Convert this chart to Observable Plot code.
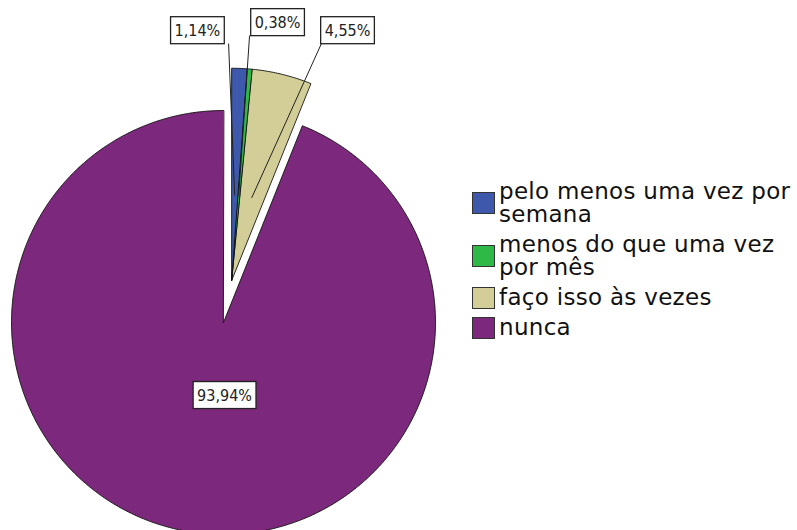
<!DOCTYPE html>
<html>
<head>
<meta charset="utf-8">
<script src="https://cdn.jsdelivr.net/npm/d3@7"></script>
<script src="https://cdn.jsdelivr.net/npm/@observablehq/plot@0.6"></script>
<style>
  html, body { margin: 0; padding: 0; background: #fff; }
  #wrap { position: relative; width: 797px; height: 530px; overflow: hidden; }
  #legend { position: absolute; left: 472px; top: 180px; font-family: "DejaVu Sans", sans-serif; font-size: 23px; letter-spacing: 0.3px; color: #111; line-height: 23px; }
  .item { display: flex; align-items: center; margin-bottom: 7px; }
  .sw { width: 23px; height: 22px; border: 1.5px solid #333; box-sizing: border-box; margin-right: 4px; flex: none; }
  .lab { width: 320px; }
</style>
</head>
<body>
<div id="wrap"><div id="legend"></div></div>
<script>
const categories = ["pelo menos uma vez por semana", "menos do que uma vez por mês", "faço isso às vezes", "nunca"];
const percents = [1.14, 0.38, 4.55, 93.94];
const pctLabels = ["1,14%", "0,38%", "4,55%", "93,94%"];
const colors = ["#3E58AC", "#2EB848", "#D3CE97", "#7C287D"];

// layout (unit-radius coordinates)
const explodedCount = 3;
const explodeDist = 0.203;
const labelPos = [[-0.123, 1.377], [0.255, 1.415], [0.585, 1.377], [0.005, -0.344]];
const leaderStart = [[0.024, 1.316], [0.123, 1.354], [0.462, 1.316], null];

const total = d3.sum(percents);
const deg = Math.PI / 180;
const bounds = [];
let acc = 0;
for (const p of percents) { const a0 = acc / total * 2 * Math.PI; acc += p; bounds.push([a0, acc / total * 2 * Math.PI]); }
const groupMid = (bounds[0][0] + bounds[explodedCount - 1][1]) / 2;
const off = [explodeDist * Math.sin(groupMid), explodeDist * Math.cos(groupMid)];

const pts = [];
const leaders = [];
categories.forEach((cat, i) => {
  const [a0, a1] = bounds[i];
  const [ox, oy] = i < explodedCount ? off : [0, 0];
  pts.push({cat, x: ox, y: oy});
  const n = Math.max(2, Math.ceil((a1 - a0) / (0.5 * deg)));
  for (let k = 0; k <= n; k++) {
    const a = a0 + (a1 - a0) * k / n;
    pts.push({cat, x: ox + Math.sin(a), y: oy + Math.cos(a)});
  }
  if (leaderStart[i]) {
    const m = (a0 + a1) / 2;
    leaders.push({x1: leaderStart[i][0], y1: leaderStart[i][1], x2: ox + 0.4 * Math.sin(m), y2: oy + 0.4 * Math.cos(m)});
  }
});
const labelData = pctLabels.map((t, i) => ({t, x: labelPos[i][0], y: labelPos[i][1]}));

const plot = Plot.plot({
  width: 797, height: 530,
  marginTop: 0, marginRight: 0, marginBottom: 0, marginLeft: 0,
  x: {domain: [-1, 1], range: [11, 435], axis: null},
  y: {domain: [-1, 1], range: [534, 110], axis: null},
  color: {domain: categories, range: colors},
  style: {background: "#fff"},
  marks: [
    Plot.line(pts.slice().reverse(), {x: "x", y: "y", z: "cat", fill: "cat", stroke: "#111", strokeWidth: 0.9, curve: "linear-closed"}),
    Plot.link(leaders, {x1: "x1", y1: "y1", x2: "x2", y2: "y2", stroke: "#222", strokeWidth: 1}),
    Plot.text(labelData, {x: "x", y: "y", text: "t", fontSize: 16, fill: "#222", className: "pct", fontFamily: "'DejaVu Sans Condensed', 'DejaVu Sans', sans-serif"})
  ]
});
document.getElementById("wrap").prepend(plot);

// boxes behind percentage labels
d3.select(plot).selectAll("g.pct text").each(function() {
  const b = this.getBBox();
  const padX = 4, padY = 4;
  d3.select(this.parentNode).insert("rect", () => this)
    .attr("x", b.x - padX).attr("y", b.y - padY)
    .attr("width", b.width + 2 * padX).attr("height", b.height + 2 * padY)
    .attr("fill", "#fff").attr("stroke", "#222").attr("stroke-width", 1.3)
    .attr("transform", this.getAttribute("transform"));
});

const legend = d3.select("#legend");
categories.forEach((t, i) => {
  const it = legend.append("div").attr("class", "item");
  it.append("div").attr("class", "sw").style("background", colors[i]);
  it.append("div").attr("class", "lab").text(t);
});
</script>
</body>
</html>
